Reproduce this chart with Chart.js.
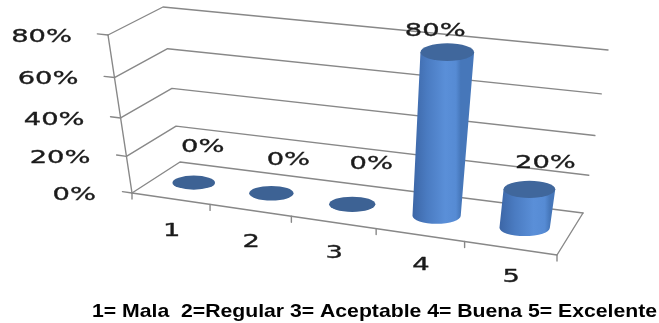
<!DOCTYPE html>
<html>
<head>
<meta charset="utf-8">
<script src="https://cdn.jsdelivr.net/npm/chart.js@4.4.1/dist/chart.umd.min.js"></script>
<style>
  html, body { margin: 0; padding: 0; background: #ffffff; }
  #wrap { width: 659px; height: 323px; position: relative; }
</style>
</head>
<body>
<div id="wrap"><canvas id="chart" width="659" height="323"></canvas></div>
<script>
// Rating categories and the share of answers for each one
const categories = ['1', '2', '3', '4', '5'];
const shares = [0, 0, 0, 0.8, 0.2];
const yTicks = [0, 0.2, 0.4, 0.6, 0.8];
const caption = '1= Mala  2=Regular 3= Aceptable 4= Buena 5= Excelente';

const pct = v => Math.round(v * 100) + '%';

// Screen corners of the 3-D plot box: floor plane and top (axis max) plane
const BOX = {
  floor: { fl: [132, 193], fr: [557, 255], bl: [180, 162], br: [583, 213] },
  top:   { fl: [108, 35],  fr: [583, 84],  bl: [163, 7],   br: [608, 50] }
};
// Perspective foreshortening along width and height
const WARP_X = 0.9, WARP_Y = 0.905;
// Small nudges that keep each value label clear of its cylinder
const labelNudge = [[9, -35], [17, -33], [19, -40], [-12, -21], [16, -26]];

const TEXT_FONT = '18px "DejaVu Sans"';
const TEXT_STRETCH = 1.52;
const TEXT_COLOR = '#1b1b1b';
const GRID_COLOR = '#888888';

function warp(t, k) { return k * t / (1 - (1 - k) * t); }
function lerp(a, b, t) { return [a[0] + (b[0] - a[0]) * t, a[1] + (b[1] - a[1]) * t]; }
function project(X, Y, Z) {
  const u = warp(X, WARP_X), h = warp(Y, WARP_Y);
  const plane = p => lerp(lerp(p.fl, p.fr, u), lerp(p.bl, p.br, u), Z);
  return lerp(plane(BOX.floor), plane(BOX.top), h);
}

function stretchedText(ctx, text, x, y, align) {
  ctx.save();
  ctx.font = TEXT_FONT;
  ctx.fillStyle = TEXT_COLOR;
  ctx.strokeStyle = TEXT_COLOR;
  ctx.lineWidth = 0.35;
  ctx.textAlign = align;
  ctx.textBaseline = 'middle';
  ctx.translate(x, y);
  ctx.scale(TEXT_STRETCH, 1);
  ctx.fillText(text, 0, 0);
  ctx.strokeText(text, 0, 0);
  ctx.restore();
}

function line(ctx, pts) {
  ctx.beginPath();
  ctx.moveTo(pts[0][0], pts[0][1]);
  for (let i = 1; i < pts.length; i++) ctx.lineTo(pts[i][0], pts[i][1]);
  ctx.stroke();
}

const cylinderPlugin = {
  id: 'cylinders3d',
  afterDatasetsDraw(chart) {
    const ctx = chart.ctx;
    const ca = chart.chartArea;
    const ys = chart.scales.y;
    const nx = px => (px - ca.left) / (ca.right - ca.left);
    const ny = v => (ys.bottom - ys.getPixelForValue(v)) / (ys.bottom - ys.top);
    const yMax = ny(ys.max);

    ctx.save();
    ctx.lineWidth = 1.4;
    ctx.strokeStyle = GRID_COLOR;
    ctx.lineCap = 'round';
    ctx.lineJoin = 'round';

    // Gridlines run along the side wall and the back wall
    yTicks.forEach(t => {
      const Y = ny(t);
      line(ctx, [project(0, Y, 0), project(0, Y, 1), project(1, Y, 1)]);
      // tick mark and label on the value axis
      const p = project(0, Y, 0);
      line(ctx, [project(-0.025, Y, 0), p]);
      stretchedText(ctx, pct(t), p[0] - 36, p[1] + 2, 'right');
    });
    // Value axis
    line(ctx, [project(0, 0, 0), project(0, yMax, 0)]);
    // Floor front and right edges
    line(ctx, [project(0, 0, 0), project(1, 0, 0), project(1, 0, 1)]);
    // Category ticks
    for (let k = 0; k <= categories.length; k++) {
      const p = project(k / categories.length, 0, 0);
      line(ctx, [p, [p[0], p[1] + 6]]);
    }

    const meta = chart.getDatasetMeta(0);
    meta.data.forEach((bar, i) => {
      const X = nx(bar.x);
      const r = (bar.width / 2) / (ca.right - ca.left);
      const Y = (ys.bottom - bar.y) / (ys.bottom - ys.top);

      // category label under the floor
      const f = project(X, 0, 0);
      const u = warp(X, WARP_X);
      stretchedText(ctx, categories[i], f[0] + 1, f[1] + 33.5 - 5 * u, 'center');

      const ell = h => {
        const c = project(X, h, 0.5);
        const l = project(X - r, h, 0.5), rr = project(X + r, h, 0.5);
        const rx = (rr[0] - l[0]) / 2;
        return { cx: (l[0] + rr[0]) / 2, cy: c[1], rx, ry: rx * 0.33 };
      };
      const b = ell(0), t = ell(Y);

      if (Y > 0.001) {
        const g = ctx.createLinearGradient(b.cx - b.rx, 0, b.cx + b.rx, 0);
        g.addColorStop(0, '#3c66a6');
        g.addColorStop(0.3, '#4a7bc1');
        g.addColorStop(0.68, '#5a8fd8');
        g.addColorStop(0.9, '#568bd4');
        g.addColorStop(1, '#4677ba');
        ctx.beginPath();
        ctx.moveTo(t.cx - t.rx, t.cy);
        ctx.lineTo(t.cx + t.rx, t.cy);
        ctx.lineTo(b.cx + b.rx, b.cy);
        ctx.ellipse(b.cx, b.cy, b.rx, b.ry, 0, 0, Math.PI);
        ctx.closePath();
        ctx.fillStyle = g;
        ctx.fill();
      }
      // cap
      ctx.beginPath();
      ctx.ellipse(t.cx, t.cy, t.rx, t.ry, 0, 0, Math.PI * 2);
      ctx.fillStyle = Y > 0.001 ? '#40679c' : '#3d6294';
      ctx.fill();

      // value label
      const n = labelNudge[i];
      stretchedText(ctx, pct(shares[i]), t.cx + n[0], t.cy + n[1], 'center');
    });

    // Caption under the chart
    ctx.font = 'bold 19px "Liberation Sans", Arial, sans-serif';
    const w = ctx.measureText(caption).width;
    ctx.save();
    ctx.fillStyle = '#000000';
    ctx.textAlign = 'left';
    ctx.textBaseline = 'alphabetic';
    ctx.translate(92, 317);
    ctx.scale(565 / w, 1);
    ctx.fillText(caption, 0, 0);
    ctx.restore();

    ctx.restore();
  }
};

new Chart(document.getElementById('chart'), {
  type: 'bar',
  data: {
    labels: categories,
    datasets: [{
      data: shares,
      backgroundColor: 'rgba(0,0,0,0)',
      borderWidth: 0,
      barPercentage: 0.56,
      categoryPercentage: 1
    }]
  },
  options: {
    responsive: false,
    animation: false,
    layout: { padding: 0 },
    scales: {
      x: { type: 'category', display: false, offset: true },
      y: { min: 0, max: 0.8, display: false }
    },
    plugins: { legend: { display: false }, tooltip: { enabled: false } }
  },
  plugins: [cylinderPlugin]
});
</script>
</body>
</html>
